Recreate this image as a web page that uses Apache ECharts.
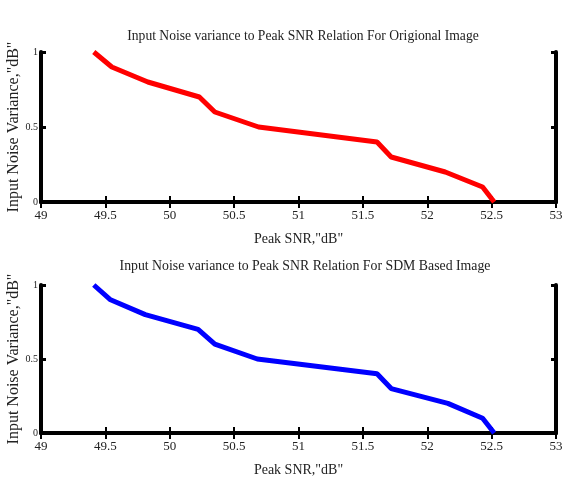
<!DOCTYPE html>
<html>
<head>
<meta charset="utf-8">
<script src="https://cdn.jsdelivr.net/npm/echarts@6/dist/echarts.min.js"></script>
<style>html,body{margin:0;padding:0;background:#fff;}#c{width:565px;height:477px;}</style>
</head>
<body>
<div id="c"></div>
<script>
// Data
const titleTop = 'Input Noise variance to Peak SNR Relation For Origional Image';
const titleBottom = 'Input Noise variance to Peak SNR Relation For SDM Based Image';
const xName = 'Peak SNR,"dB"';
const yName = 'Input Noise Variance,"dB"';
const noiseVariance = [1.0, 0.9, 0.8, 0.7, 0.6, 0.5, 0.4, 0.3, 0.2, 0.1, 0.0];
const psnrOriginal = [49.41, 49.55, 49.83, 50.23, 50.35, 50.69, 51.61, 51.72, 52.14, 52.43, 52.52];
const psnrSDM = [49.41, 49.54, 49.81, 50.22, 50.35, 50.68, 51.61, 51.72, 52.16, 52.43, 52.52];
const xTicks = [49, 49.5, 50, 50.5, 51, 51.5, 52, 52.5, 53];
const yTicks = [0, 0.5, 1];

const serif = '"Liberation Serif", "DejaVu Serif", serif';
const chart = echarts.init(document.getElementById('c'), null, {renderer: 'canvas'});

function pairs(xs, ys) { return xs.map((x, i) => [x, ys[i]]); }

const grids = [
  {left: 41, right: 9, top: 52, height: 150, outerBoundsMode: 'none', containLabel: false},
  {left: 41, right: 9, top: 285, height: 148, outerBoundsMode: 'none', containLabel: false}
];

function xAxes(gi) {
  return [
    {
      type: 'value', gridIndex: gi, min: 49, max: 53, interval: 0.5, position: 'bottom',
      name: xName, nameLocation: 'middle', nameGap: 30, nameMoveOverlap: false,
      nameTextStyle: {fontFamily: serif, fontSize: 14, color: '#222'},
      axisLine: {show: true, lineStyle: {color: '#000', width: 4}},
      axisTick: {show: true, inside: true, length: 6, lineStyle: {color: '#000', width: 2}},
      axisLabel: {fontFamily: serif, fontSize: 13, color: '#222', margin: 7,
        formatter: v => xTicks.includes(v) ? String(v) : ''},
      splitLine: {show: false}
    },
    {
      type: 'value', gridIndex: gi, min: 49, max: 53, interval: 0.5, position: 'top',
      axisLine: {show: true, lineStyle: {color: '#000', width: 4}},
      axisTick: {show: true, inside: true, length: 6, lineStyle: {color: '#000', width: 2}},
      axisLabel: {show: false}, splitLine: {show: false}
    }
  ];
}

function yAxes(gi) {
  return [
    {
      type: 'value', gridIndex: gi, min: 0, max: 1, interval: 0.5, position: 'left',
      name: yName, nameLocation: 'middle', nameGap: 19, nameRotate: 90, nameMoveOverlap: false,
      nameTextStyle: {fontFamily: serif, fontSize: 16, color: '#222'},
      axisLine: {show: true, lineStyle: {color: '#000', width: 4}},
      axisTick: {show: true, inside: true, length: 5, lineStyle: {color: '#000', width: 3}},
      axisLabel: {fontFamily: serif, fontSize: 10, color: '#222', margin: 3,
        formatter: v => yTicks.includes(v) ? String(v) : ''},
      splitLine: {show: false}
    },
    {
      type: 'value', gridIndex: gi, min: 0, max: 1, interval: 0.5, position: 'right',
      axisLine: {show: true, lineStyle: {color: '#000', width: 4}},
      axisTick: {show: true, inside: true, length: 5, lineStyle: {color: '#000', width: 3}},
      axisLabel: {show: false}, splitLine: {show: false}
    }
  ];
}

chart.setOption({
  animation: false,
  backgroundColor: '#fff',
  title: [
    {text: titleTop, left: 298, top: 24, textAlign: 'center',
      textStyle: {fontFamily: serif, fontSize: 13.6, fontWeight: 'normal', color: '#222'}},
    {text: titleBottom, left: 300, top: 254, textAlign: 'center',
      textStyle: {fontFamily: serif, fontSize: 13.8, fontWeight: 'normal', color: '#222'}}
  ],
  grid: grids,
  xAxis: [...xAxes(0), ...xAxes(1)],
  yAxis: [...yAxes(0), ...yAxes(1)],
  series: [
    {type: 'line', xAxisIndex: 0, yAxisIndex: 0, data: pairs(psnrOriginal, noiseVariance),
      showSymbol: false, lineStyle: {color: '#ff0000', width: 5}, itemStyle: {color: '#ff0000'}},
    {type: 'line', xAxisIndex: 2, yAxisIndex: 2, data: pairs(psnrSDM, noiseVariance),
      showSymbol: false, lineStyle: {color: '#0000ff', width: 5}, itemStyle: {color: '#0000ff'}}
  ]
});
</script>
</body>
</html>
